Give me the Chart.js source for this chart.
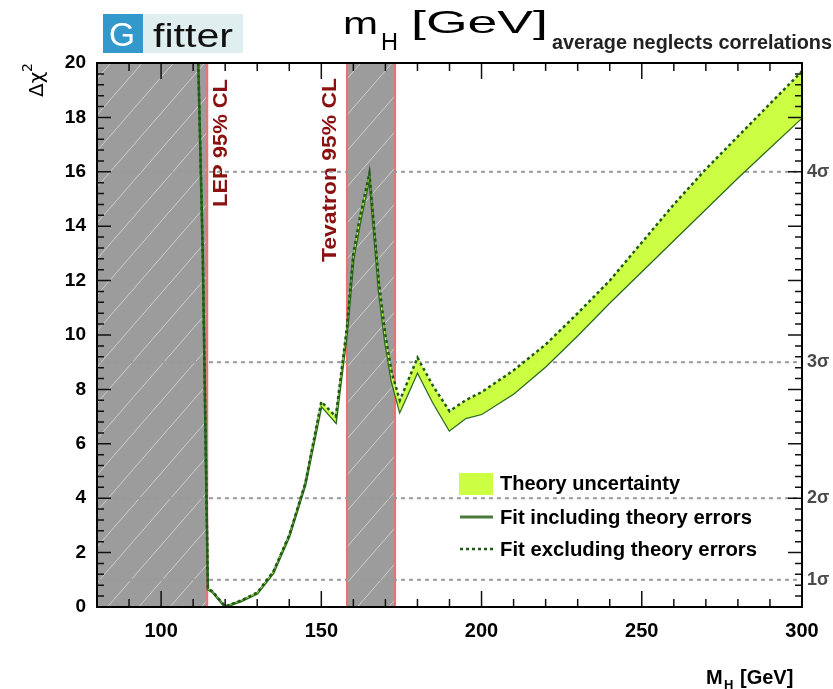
<!DOCTYPE html>
<html>
<head>
<meta charset="utf-8">
<script src="https://cdn.jsdelivr.net/npm/chart.js@4.4.1/dist/chart.umd.min.js"></script>
<style>
  html, body { margin: 0; padding: 0; background: #fff; }
  canvas { display: block; }
</style>
</head>
<body>
<canvas id="chi2Chart" width="833" height="689"></canvas>
<script>
// Higgs mass scan
var massGeV  = [111.6, 113, 114.6, 116, 120, 125, 130, 135, 140, 145, 150, 154.5, 158, 160, 162, 165, 168, 170, 172, 174.5, 177, 180, 185, 190, 195, 200, 210, 220, 230, 240, 250, 260, 270, 280, 290, 300];
var chi2Incl = [20, 13, 0.65, 0.55, 0.0, 0.22, 0.5, 1.25, 2.6, 4.5, 7.4, 6.8, 10.1, 12.8, 14.1, 15.8, 11.6, 9.7, 8.3, 7.2, 7.85, 8.65, 7.5, 6.5, 6.95, 7.1, 7.85, 8.85, 10.0, 11.2, 12.35, 13.5, 14.65, 15.8, 16.9, 18.0];
var chi2Excl = [20, 13, 0.68, 0.58, 0.02, 0.24, 0.53, 1.3, 2.65, 4.55, 7.55, 7.0, 10.3, 13.0, 14.3, 15.95, 11.9, 10.0, 8.6, 7.6, 8.3, 9.17, 8.1, 7.2, 7.6, 7.9, 8.7, 9.65, 10.8, 12.0, 13.4, 14.8, 16.1, 17.3, 18.5, 19.7];

var xTickValues = [100, 150, 200, 250, 300];
var yTickValues = [0, 2, 4, 6, 8, 10, 12, 14, 16, 18, 20];
var sigmaValues = [1, 4, 9, 16];
var sigmaLabels = ['1σ', '2σ', '3σ', '4σ'];

var lepLimit = 114.4;
var tevatronRange = [158, 173];
var legendLabels = ['Theory uncertainty', 'Fit including theory errors', 'Fit excluding theory errors'];

var GREEN = '#2a6a1e';
var GREEN_DOT = '#1f5a17';
var BAND = '#ccff44';

function toPoints(ys) {
    return massGeV.map(function (m, i) { return { x: m, y: ys[i] }; });
}

// draw text squeezed / stretched to a given width
function fitText(ctx, text, x, y, width) {
    var w = ctx.measureText(text).width;
    ctx.save();
    ctx.translate(x, y);
    ctx.scale(width / w, 1);
    ctx.fillText(text, 0, 0);
    ctx.restore();
}

function hatchBand(ctx, x0, x1, top, bottom) {
    ctx.save();
    ctx.fillStyle = '#9c9c9c';
    ctx.fillRect(x0, top, x1 - x0, bottom - top);
    ctx.beginPath();
    ctx.rect(x0, top, x1 - x0, bottom - top);
    ctx.clip();
    ctx.strokeStyle = 'rgba(255,255,255,0.5)';
    ctx.lineWidth = 1;
    var slope = 1.15;
    for (var y = top - 200; y < bottom + 400; y += 36) {
        ctx.beginPath();
        ctx.moveTo(x0 - 20, y + 20 * slope);
        ctx.lineTo(x1 + 200, y - (x1 + 200 - x0) * slope);
        ctx.stroke();
    }
    ctx.restore();
}

var backgroundPlugin = {
    id: 'bands',
    beforeDraw: function (chart) {
        var ctx = chart.ctx;
        ctx.save();
        ctx.fillStyle = '#fff';
        ctx.fillRect(0, 0, chart.width, chart.height);
        ctx.restore();
    },
    beforeDatasetsDraw: function (chart) {
        var ctx = chart.ctx, a = chart.chartArea, xs = chart.scales.x;
        var xl = xs.getPixelForValue(lepLimit);
        var t0 = xs.getPixelForValue(tevatronRange[0]);
        var t1 = xs.getPixelForValue(tevatronRange[1]);
        hatchBand(ctx, a.left, xl, a.top, a.bottom);
        hatchBand(ctx, t0, t1, a.top, a.bottom);

        ctx.save();
        ctx.strokeStyle = '#ee7070';
        ctx.lineWidth = 2;
        [xl, t0, t1].forEach(function (px) {
            ctx.beginPath();
            ctx.moveTo(px, a.top);
            ctx.lineTo(px, a.bottom);
            ctx.stroke();
        });

        // dark red rotated labels
        ctx.fillStyle = '#8b1010';
        ctx.font = 'bold 21px "Liberation Sans", Arial, sans-serif';
        ctx.textBaseline = 'middle';
        ctx.save();
        ctx.translate(xl + 14, 207);
        ctx.rotate(-Math.PI / 2);
        fitText(ctx, 'LEP 95% CL', 0, 0, 128);
        ctx.restore();
        ctx.save();
        ctx.translate(t0 - 17, 262);
        ctx.rotate(-Math.PI / 2);
        fitText(ctx, 'Tevatron 95% CL', 0, 0, 184);
        ctx.restore();
        ctx.restore();

        // sigma reference lines
        var ys = chart.scales.y;
        ctx.save();
        ctx.strokeStyle = '#9a9a9a';
        ctx.lineWidth = 2;
        ctx.setLineDash([4, 4]);
        sigmaValues.forEach(function (v) {
            var py = ys.getPixelForValue(v);
            ctx.beginPath();
            ctx.moveTo(a.left, py);
            ctx.lineTo(a.right, py);
            ctx.stroke();
        });
        ctx.restore();
    },
    afterDraw: function (chart) {
        var ctx = chart.ctx, a = chart.chartArea, xs = chart.scales.x, ys = chart.scales.y;
        ctx.save();
        // tick marks, pointing inward
        ctx.strokeStyle = '#111';
        ctx.lineWidth = 1.5;
        var v, px, len;
        for (v = 80; v <= 300; v += 10) {
            px = xs.getPixelForValue(v);
            len = (v % 50 === 0) ? 16 : 8;
            ctx.beginPath();
            ctx.moveTo(px, a.bottom); ctx.lineTo(px, a.bottom - len);
            ctx.moveTo(px, a.top); ctx.lineTo(px, a.top + len);
            ctx.stroke();
        }
        for (var k = 0; k <= 50; k++) {
            v = k * 0.4;
            var py = ys.getPixelForValue(v);
            len = (k % 5 === 0) ? 14 : 7;
            ctx.beginPath();
            ctx.moveTo(a.left, py); ctx.lineTo(a.left + len, py);
            ctx.moveTo(a.right, py); ctx.lineTo(a.right - len, py);
            ctx.stroke();
        }
        // frame
        ctx.lineWidth = 2;
        ctx.strokeStyle = '#000';
        ctx.strokeRect(a.left, a.top, a.right - a.left, a.bottom - a.top);

        // legend
        ctx.fillStyle = BAND;
        ctx.fillRect(459, 473, 34, 22);
        ctx.lineWidth = 3;
        ctx.strokeStyle = '#4a7a3a';
        ctx.beginPath(); ctx.moveTo(460, 517); ctx.lineTo(493, 517); ctx.stroke();
        ctx.strokeStyle = GREEN_DOT;
        ctx.lineWidth = 2.5;
        ctx.setLineDash([3, 3]);
        ctx.beginPath(); ctx.moveTo(460, 549); ctx.lineTo(493, 549); ctx.stroke();
        ctx.setLineDash([]);
        ctx.fillStyle = '#000';
        ctx.font = 'bold 20px "Liberation Sans", Arial, sans-serif';
        ctx.textBaseline = 'middle';
        fitText(ctx, legendLabels[0], 500, 484, 180);
        fitText(ctx, legendLabels[1], 500, 518, 252);
        fitText(ctx, legendLabels[2], 500, 550, 257);

        // logo
        ctx.fillStyle = '#3399cc';
        ctx.fillRect(103, 14, 40, 39);
        ctx.fillStyle = '#dfeeee';
        ctx.fillRect(143, 14, 100, 39);
        ctx.textBaseline = 'alphabetic';
        ctx.fillStyle = '#fff';
        ctx.font = '34px "Liberation Sans", Arial, sans-serif';
        fitText(ctx, 'G', 109, 46, 26);
        ctx.fillStyle = '#111';
        fitText(ctx, 'fitter', 153, 47, 80);

        // title
        ctx.fillStyle = '#000';
        ctx.font = '32px "Liberation Sans", Arial, sans-serif';
        fitText(ctx, 'm', 343, 34, 35);
        fitText(ctx, '[GeV]', 411, 33, 137);
        ctx.font = '23px "Liberation Sans", Arial, sans-serif';
        fitText(ctx, 'H', 381, 50, 17);
        ctx.fillStyle = '#222';
        ctx.font = 'bold 20px "Liberation Sans", Arial, sans-serif';
        fitText(ctx, 'average neglects correlations', 552, 49, 280);

        // axis titles
        ctx.fillStyle = '#000';
        ctx.font = 'bold 20px "Liberation Sans", Arial, sans-serif';
        ctx.fillText('M', 706, 684);
        ctx.font = 'bold 13px "Liberation Sans", Arial, sans-serif';
        ctx.fillText('H', 724, 689);
        ctx.font = 'bold 20px "Liberation Sans", Arial, sans-serif';
        ctx.fillText('[GeV]', 740, 684);

        ctx.save();
        ctx.translate(43, 97);
        ctx.rotate(-Math.PI / 2);
        ctx.font = '20px "DejaVu Sans", sans-serif';
        ctx.fillText('Δχ', 0, 0);
        ctx.font = '14px "DejaVu Sans", sans-serif';
        ctx.fillText('2', 25, -11);
        ctx.restore();
        ctx.restore();
    }
};

new Chart(document.getElementById('chi2Chart').getContext('2d'), {
    type: 'line',
    data: {
        datasets: [{
            label: legendLabels[2],
            data: toPoints(chi2Excl),
            borderColor: GREEN_DOT,
            borderDash: [3, 3],
            borderWidth: 2.5,
            backgroundColor: BAND,
            fill: '+1',
            pointRadius: 0,
            tension: 0
        }, {
            label: legendLabels[1],
            data: toPoints(chi2Incl),
            borderColor: GREEN,
            borderWidth: 2.5,
            fill: false,
            pointRadius: 0,
            tension: 0
        }]
    },
    options: {
        responsive: false,
        animation: false,
        devicePixelRatio: 1,
        layout: { padding: { top: 63, left: 0, right: 0, bottom: 0 } },
        plugins: { legend: { display: false }, tooltip: { enabled: false } },
        scales: {
            x: {
                type: 'linear',
                min: 80, max: 300,
                grid: { display: false, drawTicks: false },
                border: { display: false },
                afterBuildTicks: function (s) { s.ticks = xTickValues.map(function (v) { return { value: v }; }); },
                afterFit: function (s) { s.height = 82; },
                ticks: { color: '#000', padding: 12, font: { family: '"Liberation Sans", Arial', weight: 'bold', size: 20 } }
            },
            y: {
                position: 'left',
                min: 0, max: 20,
                grid: { display: false, drawTicks: false },
                border: { display: false },
                afterBuildTicks: function (s) { s.ticks = yTickValues.map(function (v) { return { value: v }; }); },
                afterFit: function (s) { s.width = 97; },
                ticks: { color: '#000', padding: 11, font: { family: '"Liberation Sans", Arial', weight: 'bold', size: 19 } }
            },
            y2: {
                position: 'right',
                min: 0, max: 20,
                grid: { display: false, drawTicks: false },
                border: { display: false },
                afterBuildTicks: function (s) { s.ticks = sigmaValues.map(function (v) { return { value: v }; }); },
                afterFit: function (s) { s.width = 31; },
                ticks: {
                    color: '#4a4a4a', padding: 5,
                    font: { family: '"Liberation Sans", Arial', weight: 'bold', size: 18 },
                    callback: function (v) { return sigmaLabels[sigmaValues.indexOf(v)]; }
                }
            }
        }
    },
    plugins: [backgroundPlugin]
});
</script>
</body>
</html>
